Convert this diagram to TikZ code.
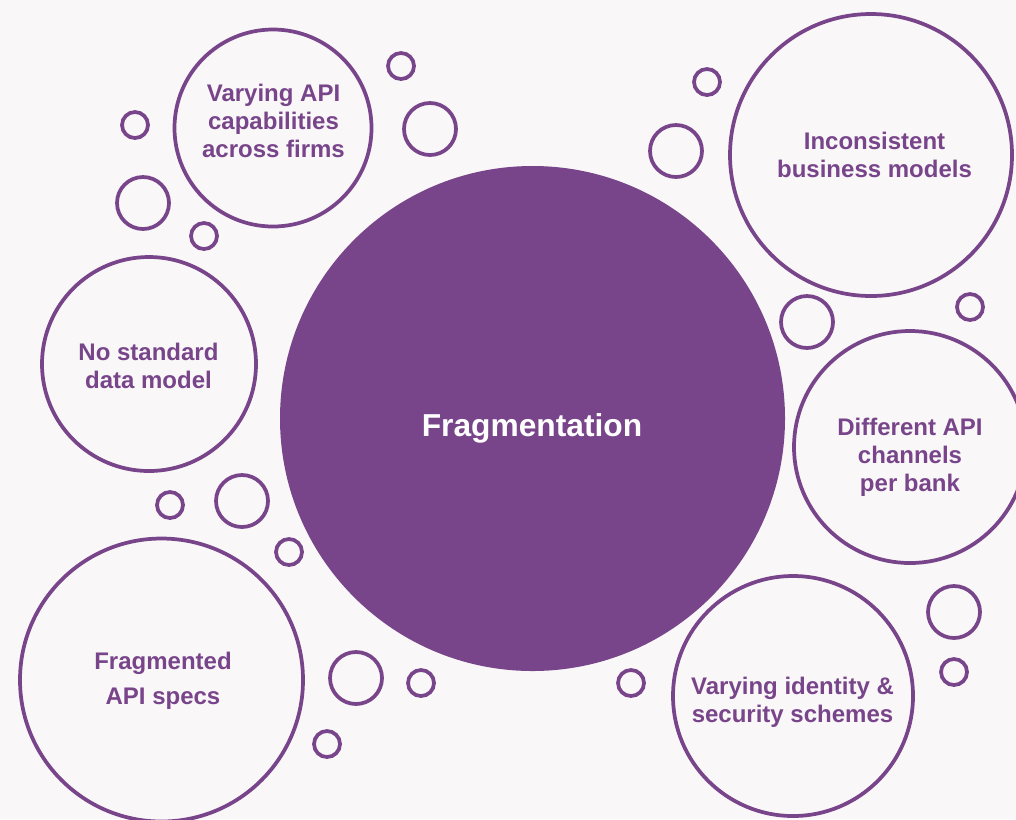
\documentclass[tikz,border=0pt]{standalone}
\usepackage{fontspec}
\setmainfont{Liberation Sans}
\definecolor{plum}{RGB}{120,68,138}
\definecolor{paper}{RGB}{249,247,248}
\begin{document}
\begin{tikzpicture}[x=0.75pt,y=-0.75pt,
  % ring of radius #1 (in px units)
  ring/.style={circle, draw=plum, line width=2.8pt, inner sep=0pt, minimum size=#1*1.5pt},
  smallring/.style={ring=13},
  midring/.style={ring=26},
  topic/.style={text=plum, font=\bfseries\fontsize{18}{21}\selectfont, align=center, inner sep=0pt},
]
\path[use as bounding box, fill=paper] (0,0) rectangle (1016,819);
\clip (0,0) rectangle (1016,819);

% central disc
\node[circle, fill=plum, inner sep=0pt, minimum size=252.5*1.5pt] (core) at (532.5,418.5) {};
\node[text=white, font=\bfseries\fontsize{23.8}{28}\selectfont, inner sep=0pt] (corelabel) at (532,428) {Fragmentation};

% topic bubbles
\node[ring=98.5] (capab) at (273,128) {};
\node[topic] (capabtext) at (273.5,121) {Varying API\\capabilities\\across firms};

\node[ring=141] (business) at (871,155) {};
\node[topic] (businesstext) at (874.5,155) {Inconsistent\\business models};

\node[ring=107] (datamodel) at (149,364) {};
\node[topic] (datamodeltext) at (148.5,366) {No standard\\data model};

\node[ring=116] (channels) at (910,447) {};
\node[topic] (channelstext) at (910,457) {Different API\\channels\\per bank};

\node[ring=141.5] (specs) at (161.5,680) {};
\node[topic] (specstext) at (163,681) {Fragmented\\[5pt]API specs};

\node[ring=120] (identity) at (793,696) {};
\node[topic] (identitytext) at (792.5,702) {Varying identity \&\\security schemes};

% decorative small bubbles
\node[smallring] (b1) at (401,66) {};
\node[midring]   (b2) at (430,129) {};
\node[smallring] (b3) at (135,125) {};
\node[midring]   (b4) at (143,203) {};
\node[smallring] (b5) at (204,236) {};
\node[smallring] (b6) at (707,82) {};
\node[midring]   (b7) at (676,151) {};
\node[midring]   (b8) at (807,322) {};
\node[smallring] (b9) at (970,307) {};
\node[smallring] (b10) at (170,505) {};
\node[midring]   (b11) at (242,501) {};
\node[smallring] (b12) at (289,552) {};
\node[midring]   (b13) at (356,678) {};
\node[smallring] (b14) at (421,683) {};
\node[smallring] (b15) at (327,744) {};
\node[smallring] (b16) at (631,683) {};
\node[midring]   (b17) at (954,612) {};
\node[smallring] (b18) at (954,672) {};
\end{tikzpicture}
\end{document}
